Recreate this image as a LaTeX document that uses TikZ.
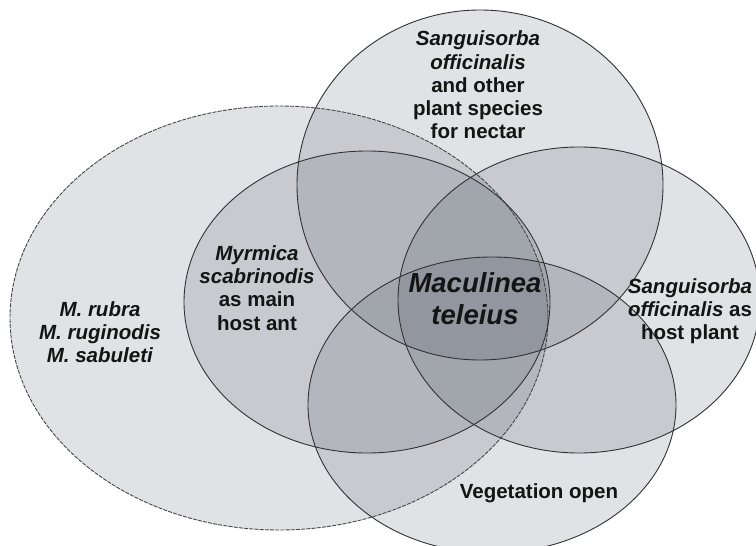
\documentclass[tikz,border=0pt]{standalone}
\usepackage{fontspec}
\setmainfont{Liberation Sans}
\definecolor{vennfill}{RGB}{70,75,90}
\definecolor{lineg}{RGB}{50,50,52}
\definecolor{txt}{RGB}{20,20,20}
\begin{document}
\begin{tikzpicture}[x=1pt,y=-1pt,
  venn/.style={fill=vennfill, fill opacity=0.155},
  outline/.style={draw=lineg, line width=0.9pt},
  dashline/.style={draw=lineg!90, line width=0.9pt, dash pattern=on 4pt off 1.2pt},
  lbl/.style={font=\fontsize{20.5}{23.3}\selectfont\bfseries, text=txt, align=center, inner sep=0pt},
  biglbl/.style={font=\fontsize{27.5}{32}\selectfont\bfseries\itshape, text=txt, align=center, inner sep=0pt}]
\useasboundingbox (0,0) rectangle (756,546);
\fill[white] (0,0) rectangle (756,546);
% fills
\fill[venn] (279,318) ellipse [x radius=269pt, y radius=212pt];
\fill[venn] (367,302) ellipse [x radius=183pt, y radius=151pt];
\fill[venn] (480,185) ellipse [x radius=183pt, y radius=175pt];
\fill[venn] (579,300) ellipse [x radius=181pt, y radius=153pt];
\fill[venn] (492,405) ellipse [x radius=184pt, y radius=148pt];
% outlines
\draw[dashline] (279,318) ellipse [x radius=269pt, y radius=212pt];
\draw[outline] (367,302) ellipse [x radius=183pt, y radius=151pt];
\draw[outline] (480,185) ellipse [x radius=183pt, y radius=175pt];
\draw[outline] (579,300) ellipse [x radius=181pt, y radius=153pt];
\draw[outline] (492,405) ellipse [x radius=184pt, y radius=148pt];
% labels
\node[lbl] (nectar) at (478,85) {\textit{Sanguisorba}\\\textit{officinalis}\\and other\\plant species\\for nectar};
\node[lbl] (myrmica) at (257,288) {\textit{Myrmica}\\\textit{scabrinodis}\\as main\\host ant};
\node[lbl] (others) at (100,332) {\textit{M. rubra}\\\textit{M. ruginodis}\\\textit{M. sabuleti}};
\node[biglbl] (macu) at (475,299) {Maculinea\\teleius};
\node[lbl] (host) at (690,311) {\textit{Sanguisorba}\\\textit{officinalis} as\\host plant};
\node[lbl] (veg) at (539,493) {Vegetation open};
\end{tikzpicture}
\end{document}
